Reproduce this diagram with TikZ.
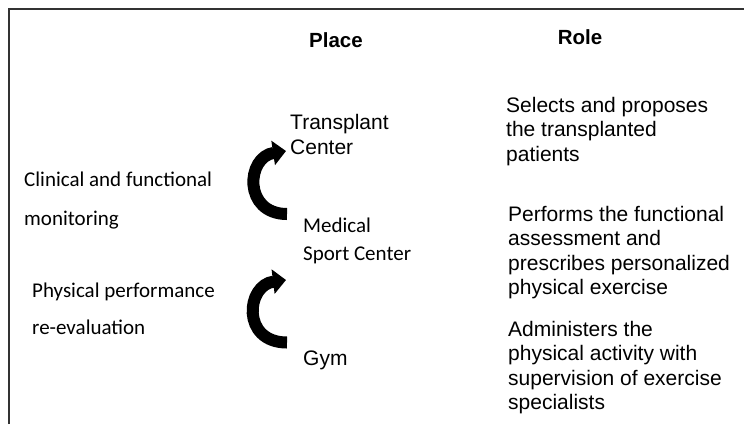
\documentclass[tikz,border=0pt]{standalone}
\usepackage{fontspec}
\setmainfont{Liberation Sans}
\newfontfamily\calfont{Carlito}
\usetikzlibrary{positioning,calc,arrows.meta}

\begin{document}
\begin{tikzpicture}[x=1pt,y=-1pt,
    every node/.style={inner sep=0pt, font=\fontsize{21}{24.5}\selectfont},
    txt/.style={anchor=west, align=left},
    cal/.style={txt, font=\calfont\fontsize{21}{#1}\selectfont},
    head/.style={font=\bfseries\fontsize{20.5}{24}\selectfont},
    loop/.style={line width=12pt, -{Triangle[length=13pt,width=24pt]}}]
    \useasboundingbox (0,0) rectangle (744,424);
    \draw[line width=2pt, black!80] (9,424) -- (9,9) -- (744,9);

    \node[head] (place) at (336,40) {Place};
    \node[head] (role) at (580,37) {Role};

    \node[txt] (transplant) at (290,134.5) {Transplant\\Center};
    \node[cal=28] (medical) at (303,241) {Medical\\Sport Center};
    \node[txt] (gym) at (303,360) {Gym};

    \node[cal=39] (clinical) at (24,200.5) {Clinical and functional\\monitoring};
    \node[cal=37] (physical) at (32,308.5) {Physical performance\\re-evaluation};

    \node[txt] (select) at (506,131.5) {Selects and proposes\\the transplanted\\patients};
    \node[txt] (perform) at (508,252.5) {Performs the functional\\assessment and\\prescribes personalized\\physical exercise};
    \node[txt] (admin) at (508,367.5) {Administers the\\physical activity with\\supervision of exercise\\specialists};

    \draw[loop] ($(medical.west)+(-16,-27)$) .. controls +(-44,0) and +(-40,6) .. ($(transplant.west)+(-4,16.5)$);
    \draw[loop] ($(gym.west)+(-16,-17.5)$) .. controls +(-46,0) and +(-40,5) .. ($(medical.west)+(-17,39)$);
\end{tikzpicture}
\end{document}
